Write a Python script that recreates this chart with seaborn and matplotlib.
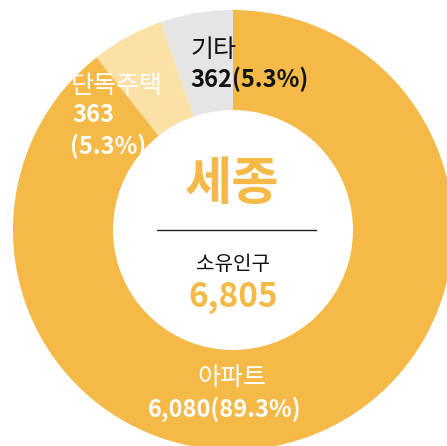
import matplotlib
matplotlib.use("Agg")
import matplotlib.pyplot as plt
import seaborn as sns

# data
categories = ["기타", "단독주택", "아파트"]
counts = [362, 363, 6080]
shares = [5.3, 5.3, 89.3]
region = "세종"
total_label = "소유인구"
total = 6805

sns.set_theme(style="white")
plt.rcParams['font.family'] = ['Noto Sans CJK KR', 'DejaVu Sans']

colors = ["#E5E5E5", "#FBE1A5", "#F4B947"]
orange = "#F4B947"

W, H = 447, 446
fig = plt.figure(figsize=(W / 100, H / 100), dpi=100)
ax = fig.add_axes([0, 0, 1, 1])

cx, cy = 233, H - 230
ax.pie(counts, colors=colors, startangle=90, counterclock=True,
       center=(cx, cy), radius=220,
       wedgeprops=dict(width=100, linewidth=0))
ax.set_xlim(0, W)
ax.set_ylim(0, H)
ax.set_aspect("equal")
ax.axis("off")


def px(y):
    return H - y


# labels on the ring
ax.text(191, px(50), categories[0], fontsize=18, color="#111111",
        ha="left", va="center")
ax.text(190, px(79), f"{counts[0]:,}({shares[0]}%)", fontsize=17,
        fontweight="bold", color="#111111", ha="left", va="center")

ax.text(71, px(86), categories[1], fontsize=18, color="white",
        ha="left", va="center")
ax.text(72, px(115), f"{counts[1]:,}", fontsize=17, fontweight="bold",
        color="white", ha="left", va="center")
ax.text(70, px(146), f"({shares[1]}%)", fontsize=17, fontweight="bold",
        color="white", ha="left", va="center")

ax.text(232, px(378), categories[2], fontsize=18, color="white",
        ha="center", va="center")
ax.text(225, px(409), f"{counts[2]:,}({shares[2]}%)", fontsize=17,
        fontweight="bold", color="white", ha="center", va="center")

# center
ax.text(232, px(183), region, fontsize=37, fontweight="bold", color=orange,
        ha="center", va="center")
ax.plot([157, 316], [px(230), px(230)], color="#222222", linewidth=1)
ax.text(233, px(264), total_label, fontsize=14.5, color="#111111",
        ha="center", va="center")
ax.text(233, px(297), f"{total:,}", fontsize=24, fontweight="bold",
        color=orange, ha="center", va="center")

fig.savefig("out.png", dpi=100)
